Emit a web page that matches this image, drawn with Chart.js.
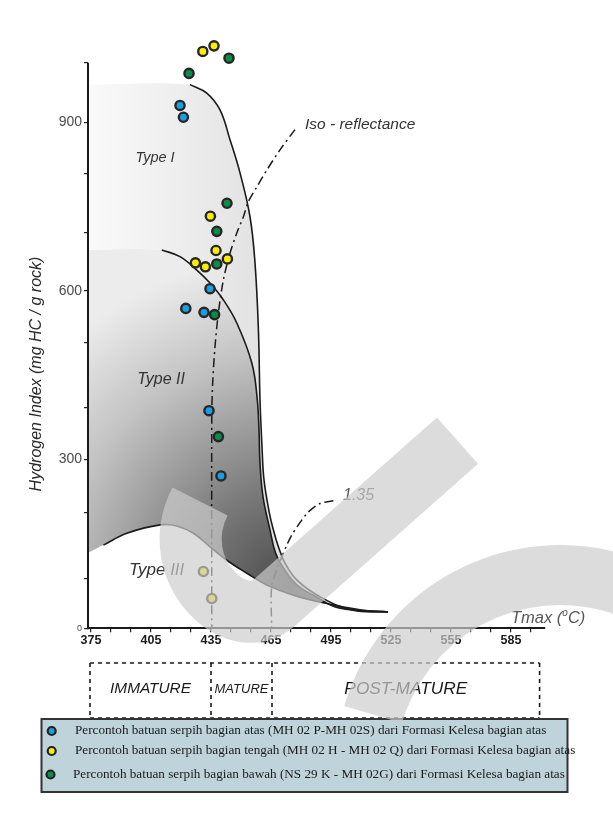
<!DOCTYPE html>
<html>
<head>
<meta charset="utf-8">
<script src="https://cdn.jsdelivr.net/npm/chart.js@4.4.1/dist/chart.umd.min.js"></script>
<style>
html,body{margin:0;padding:0;background:#fff;}
#wrap{position:relative;width:613px;height:819px;}
canvas{display:block;}
</style>
</head>
<body>
<div id="wrap"><canvas id="c" width="613" height="819"></canvas></div>
<script>
// ---------------- DATA ----------------
const xTickValues = [375,385,395,405,415,425,435,445,455,465,475,485,495,505,515,525,535,545,555,565,575,585,595];
const xTickLabels = [375,405,435,465,495,525,555,585];
const yTickValues = [0,89,205,300,393,509,600,703,808,900,1006];
const yTickLabels = [0,300,600,900];
const yAxisTop = 1006;

const seriesNames = [
  "Percontoh batuan serpih bagian atas (MH 02 P-MH 02S) dari Formasi Kelesa bagian atas",
  "Percontoh batuan serpih bagian tengah (MH 02 H - MH 02 Q) dari Formasi Kelesa bagian atas",
  "Percontoh batuan serpih bagian bawah (NS 29 K - MH 02G) dari Formasi Kelesa bagian atas"
];

// samples: Tmax (°C) and Hydrogen Index (mg HC/g rock)
const upperTmax  = [419.5, 421.2, 434.5, 422.4, 431.5, 434.0, 440.0];
const upperHI    = [930,   909,   604,   569,   562,   387,   271];
const middleTmax = [430.9, 436.5, 434.7, 437.5, 427.2, 432.2, 443.2, 431.2, 435.4];
const middleHI   = [1026,  1036,  733,   672,   650,   643,   657,   101,   53];
const lowerTmax  = [444.0, 424.0, 443.0, 437.9, 437.9, 436.8, 438.7];
const lowerHI    = [1014,  987,   756,   706,   648,   558,   341];

// kerogen type boundary curves
const typeITmax  = [424.5,432.9,439.5,444.5,449.5,454.5,457.0,458.7,459.5,460.5,461.5,464.2,466.2,468.7,472.0,477.9,489.5,506.0,523.5];
const typeIHI    = [967,  952,  922,  869,  810,  732,  650,  531,  406,  323,  264,  205,  175,  145,  116,  86,   56,   32,   29];
const typeIITmax = [410.4,419.5,427.9,434.5,441.2,447.9,455.4,458.0,459.0,459.5,461.0,464.5,467.3,472.0,478.0,487.5,499.0,523.5];
const typeIIHI   = [673,  661,  637,  614,  584,  543,  472,  412,  353,  294,  234,  175,  134,  103,  77,   56,   36,   29];
const typeIIITmax= [381.2,392.9,409.5,417.9,426.2,434.5,442.9,452.9,462.9,476.2,492.9,509.5,523.5];
const typeIIIHI  = [148,  169,  184,  182,  169,  145,  121,  98,   77,   59,   44,   33,   29];
const axisTmax = 373.5;
const typeITopHI = 967, typeIITopHI = 673, typeIIAxisHI = 134;

// iso-reflectance lines
const isoTmax = [477.0,469.5,462.9,457.9,453.7,451.2,447.9,444.5,441.2,438.7,437.0,435.9,435.4,435.4];
const isoHI   = [887,  851,  815,  785,  759,  732,  703,  667,  620,  561,  501,  441,  383,  0];
const iso135Tmax = [496.2,489.5,483.7,478.7,475.4,472.9,470.4,467.9,465.3,465.3];
const iso135HI   = [227,  222,  207,  184,  166,  148,  127,  104,  74,   0];

// maturity zones (Tmax boundaries)
const maturityBounds = [374.5, 435, 465.5, 599.3];
const maturityNames = ["IMMATURE", "MATURE", "POST-MATURE"];

// ---------------- helpers ----------------
const pts = (xs, ys) => xs.map((x, i) => ({x: x, y: ys[i]}));
const rev = a => a.slice().reverse();

const typeIPoly = [{x: axisTmax, y: typeITopHI}]
  .concat(pts(typeITmax, typeIHI))
  .concat(rev(pts(typeIITmax, typeIIHI)))
  .concat([{x: axisTmax, y: typeIITopHI}]);
const typeIIPoly = [{x: axisTmax, y: typeIITopHI}]
  .concat(pts(typeIITmax, typeIIHI))
  .concat(rev(pts(typeIIITmax, typeIIIHI)))
  .concat([{x: axisTmax, y: typeIIAxisHI}]);

const SANS = '"Liberation Sans", Arial, sans-serif';
const SERIF = '"Liberation Serif", "Times New Roman", serif';
const colors = ['#1b9fe0', '#fbee00', '#0b8c47'];

const annotations = [
  {text: 'Type I',   x: 407,   y: 836, font: 'italic 14.5px ' + SANS, color: '#333', align: 'center'},
  {text: 'Type II',  x: 410,   y: 442, font: 'italic 16px ' + SANS,   color: '#333', align: 'center'},
  {text: 'Type III', x: 407.8, y: 104, font: 'italic 17px ' + SANS,   color: '#333', align: 'center'},
  {text: 'Iso - reflectance', x: 482, y: 895, font: 'italic 15.5px ' + SANS, color: '#333', align: 'left'},
  {text: '1.35', x: 501, y: 237, font: 'italic 16px ' + SANS, color: '#555', align: 'left'}
];

function typeIFill(context) {
  const c = context.chart, ctx = c.ctx;
  if (!c.chartArea) return '#eee';
  const g = ctx.createLinearGradient(88, 0, 268, 0);
  g.addColorStop(0, '#fafafa');
  g.addColorStop(1, '#e1e1e1');
  return g;
}
function typeIIFill(context) {
  const c = context.chart, ctx = c.ctx;
  if (!c.chartArea) return '#bbb';
  const g = ctx.createRadialGradient(292, 585, 0, 292, 585, 330);
  g.addColorStop(0, '#4a4a4a');
  g.addColorStop(0.3, '#7a7a7a');
  g.addColorStop(0.7, '#c2c2c2');
  g.addColorStop(1, '#ececec');
  return g;
}

const decor = {
  id: 'decor',
  afterDraw(chart) {
    const ctx = chart.ctx, xs = chart.scales.x, ys = chart.scales.y;
    const X = v => xs.getPixelForValue(v), Y = v => ys.getPixelForValue(v);
    ctx.save();
    // y axis line (stops at the top tick)
    ctx.strokeStyle = '#1a1a1a'; ctx.lineWidth = 2;
    ctx.beginPath(); ctx.moveTo(xs.left, Y(0) + 1); ctx.lineTo(xs.left, Y(yAxisTop)); ctx.stroke();
    ctx.textBaseline = 'middle';
    annotations.forEach(a => {
      ctx.font = a.font; ctx.fillStyle = a.color; ctx.textAlign = a.align;
      ctx.fillText(a.text, X(a.x), Y(a.y));
    });
    // Tmax (oC) axis title
    ctx.textAlign = 'left'; ctx.fillStyle = '#555';
    let tx = 511, ty = 618;
    ctx.font = 'italic 16.5px ' + SANS;
    ctx.fillText('Tmax (', tx, ty); tx += ctx.measureText('Tmax (').width;
    ctx.font = 'italic 10px ' + SANS;
    ctx.fillText('o', tx, ty - 5); tx += ctx.measureText('o').width;
    ctx.font = 'italic 16.5px ' + SANS;
    ctx.fillText('C)', tx, ty);
    // y axis title
    ctx.save();
    ctx.translate(37, 374); ctx.rotate(-Math.PI / 2);
    ctx.font = 'italic 16px ' + SANS; ctx.fillStyle = '#2a2a2a'; ctx.textAlign = 'center';
    ctx.fillText('Hydrogen Index (mg HC / g rock)', 0, 0);
    ctx.restore();
    // maturity box
    const bx = maturityBounds.map(X);
    const top = 663, bot = 718;
    ctx.strokeStyle = '#1a1a1a'; ctx.lineWidth = 1.6; ctx.setLineDash([4, 4]);
    ctx.beginPath();
    ctx.moveTo(bx[0], top); ctx.lineTo(bx[3], top);
    ctx.moveTo(bx[0], bot); ctx.lineTo(bx[3], bot);
    bx.forEach(b => { ctx.moveTo(b, top); ctx.lineTo(b, bot); });
    ctx.stroke();
    ctx.setLineDash([]);
    const mFonts = ['italic 15.4px ' + SANS, 'italic 13px ' + SANS, 'italic 17.3px ' + SANS];
    ctx.fillStyle = '#1a1a1a'; ctx.textAlign = 'center';
    maturityNames.forEach((n, i) => {
      ctx.font = mFonts[i];
      ctx.fillText(n, (bx[i] + bx[i + 1]) / 2, 689);
    });
    // legend box
    ctx.fillStyle = '#bfd3db';
    ctx.fillRect(41.5, 719, 526, 73);
    ctx.strokeStyle = '#333'; ctx.lineWidth = 2;
    ctx.strokeRect(41.5, 719, 526, 73);
    const ly = [731, 751, 774.5];
    seriesNames.forEach((n, i) => {
      ctx.beginPath(); ctx.arc(i === 2 ? 50.5 : 51.7, ly[i], 4, 0, Math.PI * 2);
      ctx.fillStyle = colors[i]; ctx.fill();
      ctx.lineWidth = 2.2; ctx.strokeStyle = '#222'; ctx.stroke();
      ctx.font = '13.2px ' + SERIF; ctx.fillStyle = '#1a1a1a'; ctx.textAlign = 'left';
      ctx.fillText(n, i === 2 ? 73 : 75, ly[i]);
    });
    // translucent watermark lying over the figure
    ctx.strokeStyle = 'rgba(204,204,204,0.69)';
    ctx.lineCap = 'butt'; ctx.lineJoin = 'round';
    ctx.lineWidth = 62;
    ctx.beginPath();
    ctx.moveTo(200, 501.5);
    ctx.bezierCurveTo(165, 570, 236.5, 636.2, 274, 603);
    ctx.lineTo(457.5, 440.6);
    ctx.stroke();
    ctx.lineWidth = 60;
    ctx.beginPath();
    ctx.arc(560, 770, 195, 3.43, 2 * Math.PI + 0.3);
    ctx.stroke();
    ctx.restore();
  }
};

const pointStyle = (data, col) => ({
  type: 'scatter', data: data, backgroundColor: col, borderColor: '#262626', borderWidth: 2.4,
  pointRadius: 4.6, pointHoverRadius: 4.6, clip: false, order: 0
});
const curve = (data, extra) => Object.assign({
  type: 'line', data: data, borderColor: '#1a1a1a', borderWidth: 1.6, pointRadius: 0,
  fill: false, tension: 0.4, order: 3
}, extra || {});

new Chart(document.getElementById('c'), {
  type: 'scatter',
  data: {
    datasets: [
      Object.assign(pointStyle(pts(upperTmax, upperHI), colors[0]), {label: seriesNames[0]}),
      Object.assign(pointStyle(pts(middleTmax, middleHI), colors[1]), {label: seriesNames[1]}),
      Object.assign(pointStyle(pts(lowerTmax, lowerHI), colors[2]), {label: seriesNames[2]}),
      curve(pts(isoTmax, isoHI), {borderDash: [9, 4, 2, 4], borderWidth: 1.5, tension: 0.3, order: 2}),
      curve(pts(iso135Tmax, iso135HI), {borderDash: [9, 4, 2, 4], borderWidth: 1.5, tension: 0.3, order: 2}),
      curve(pts(typeITmax, typeIHI)),
      curve(pts(typeIITmax, typeIIHI)),
      curve(pts(typeIIITmax, typeIIIHI)),
      {type: 'line', data: typeIIPoly, borderWidth: 0, borderColor: 'rgba(0,0,0,0)', pointRadius: 0,
       fill: 'shape', backgroundColor: typeIIFill, tension: 0.4, order: 8},
      {type: 'line', data: typeIPoly, borderWidth: 0, borderColor: 'rgba(0,0,0,0)', pointRadius: 0,
       fill: 'shape', backgroundColor: typeIFill, tension: 0.4, order: 9}
    ]
  },
  options: {
    responsive: false, animation: false, devicePixelRatio: 1,
    layout: {padding: {top: 40.77, right: 68, bottom: 160.7, left: 0}},
    plugins: {legend: {display: false}, tooltip: {enabled: false}},
    events: [],
    scales: {
      x: {
        type: 'linear', min: 373.5, max: 602, position: 'bottom',
        afterBuildTicks: s => { s.ticks = xTickValues.map(v => ({value: v})); },
        afterFit: s => { s.height = 30; },
        ticks: {
          autoSkip: false, maxRotation: 0, padding: 1, color: '#1a1a1a',
          font: {family: SANS, size: 12.5, weight: 'bold'},
          callback: v => xTickLabels.includes(v) ? String(v) : ''
        },
        grid: {display: true, drawOnChartArea: false, drawTicks: true, tickLength: 4, color: '#222', lineWidth: 1.2},
        border: {display: true, color: '#1a1a1a', width: 2}
      },
      y: {
        type: 'linear', min: 0, max: 1045,
        afterBuildTicks: s => { s.ticks = yTickValues.map(v => ({value: v})); },
        afterFit: s => { s.width = 88; },
        ticks: {
          autoSkip: false, padding: 2, color: '#4a4a4a',
          font: ctx => ({family: SANS, size: (ctx.tick && ctx.tick.value === 0) ? 9 : 14}),
          callback: v => yTickLabels.includes(v) ? String(v) : ''
        },
        grid: {display: true, drawOnChartArea: false, drawTicks: true, tickLength: 4, color: '#222', lineWidth: 1.2},
        border: {display: false}
      }
    }
  },
  plugins: [decor]
});
</script>
</body>
</html>
